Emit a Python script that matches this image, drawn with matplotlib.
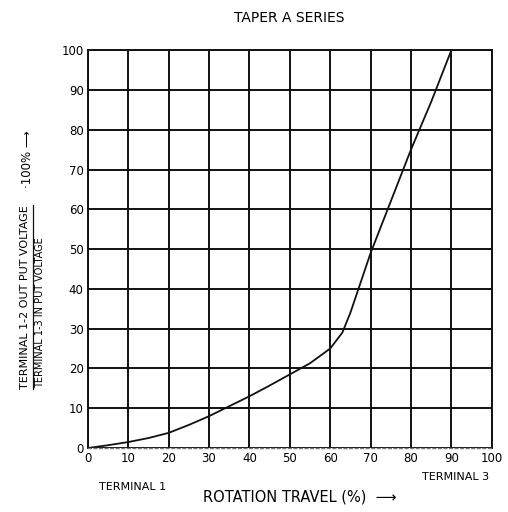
import matplotlib.pyplot as plt
from matplotlib.lines import Line2D

# rotation travel (%) vs output ratio (%)
travel = [0, 5, 10, 15, 20, 25, 30, 35, 40, 45, 50, 55, 60, 63, 65, 67, 70, 75, 80, 85, 90]
ratio = [0, 0.7, 1.5, 2.5, 3.8, 5.8, 8.0, 10.5, 13.0, 15.7, 18.5, 21.3, 25.0, 29.0, 34.0, 40.0, 49.0, 62.0, 75.0, 87.0, 100.0]

xticks = [0, 10, 20, 30, 40, 50, 60, 70, 80, 90, 100]
yticks = [0, 10, 20, 30, 40, 50, 60, 70, 80, 90, 100]

plt.rcParams['font.family'] = ['DejaVu Sans']

fig = plt.figure(figsize=(5.08, 5.12), dpi=100)
ax = fig.add_axes([0.173, 0.125, 0.795, 0.777])

ax.plot(travel, ratio, color='#111111', lw=1.3)
ax.set_xlim(0, 100)
ax.set_ylim(0, 100)
ax.set_xticks(xticks)
ax.set_yticks(yticks)
ax.tick_params(length=0, labelsize=8.5, pad=3)
ax.grid(True, color='#111111', lw=1.4)
for s in ['left', 'right', 'top']:
    ax.spines[s].set_linewidth(1.4)
    ax.spines[s].set_color('#111111')
ax.spines['bottom'].set_linestyle((0, (2, 2)))
ax.spines['bottom'].set_color('#777777')
ax.spines['bottom'].set_linewidth(1.0)
ax.set_axisbelow(True)

fig.text(0.57, 0.965, 'TAPER A SERIES', ha='center', va='center', fontsize=10)
fig.text(0.59, 0.029, 'ROTATION TRAVEL (%)  \u27f6', ha='center', va='center', fontsize=10.5)
fig.text(0.26, 0.048, 'TERMINAL 1', ha='center', va='center', fontsize=8)
fig.text(0.897, 0.068, 'TERMINAL 3', ha='center', va='center', fontsize=8)

# y label as a fraction
fig.text(0.049, 0.42, 'TERMINAL 1-2 OUT PUT VOLTAGE', rotation=90, ha='center', va='center', fontsize=8)
fig.text(0.079, 0.39, 'TERMINAL 1-3 IN PUT VOLTAGE', rotation=90, ha='center', va='center', fontsize=7)
fig.add_artist(Line2D([0.065, 0.065], [0.24, 0.60], color='#111111', lw=0.9, transform=fig.transFigure))
fig.text(0.055, 0.69, '\u00b7100% \u27f6', rotation=90, ha='center', va='center', fontsize=8.5)

fig.savefig('out.png', dpi=100)
